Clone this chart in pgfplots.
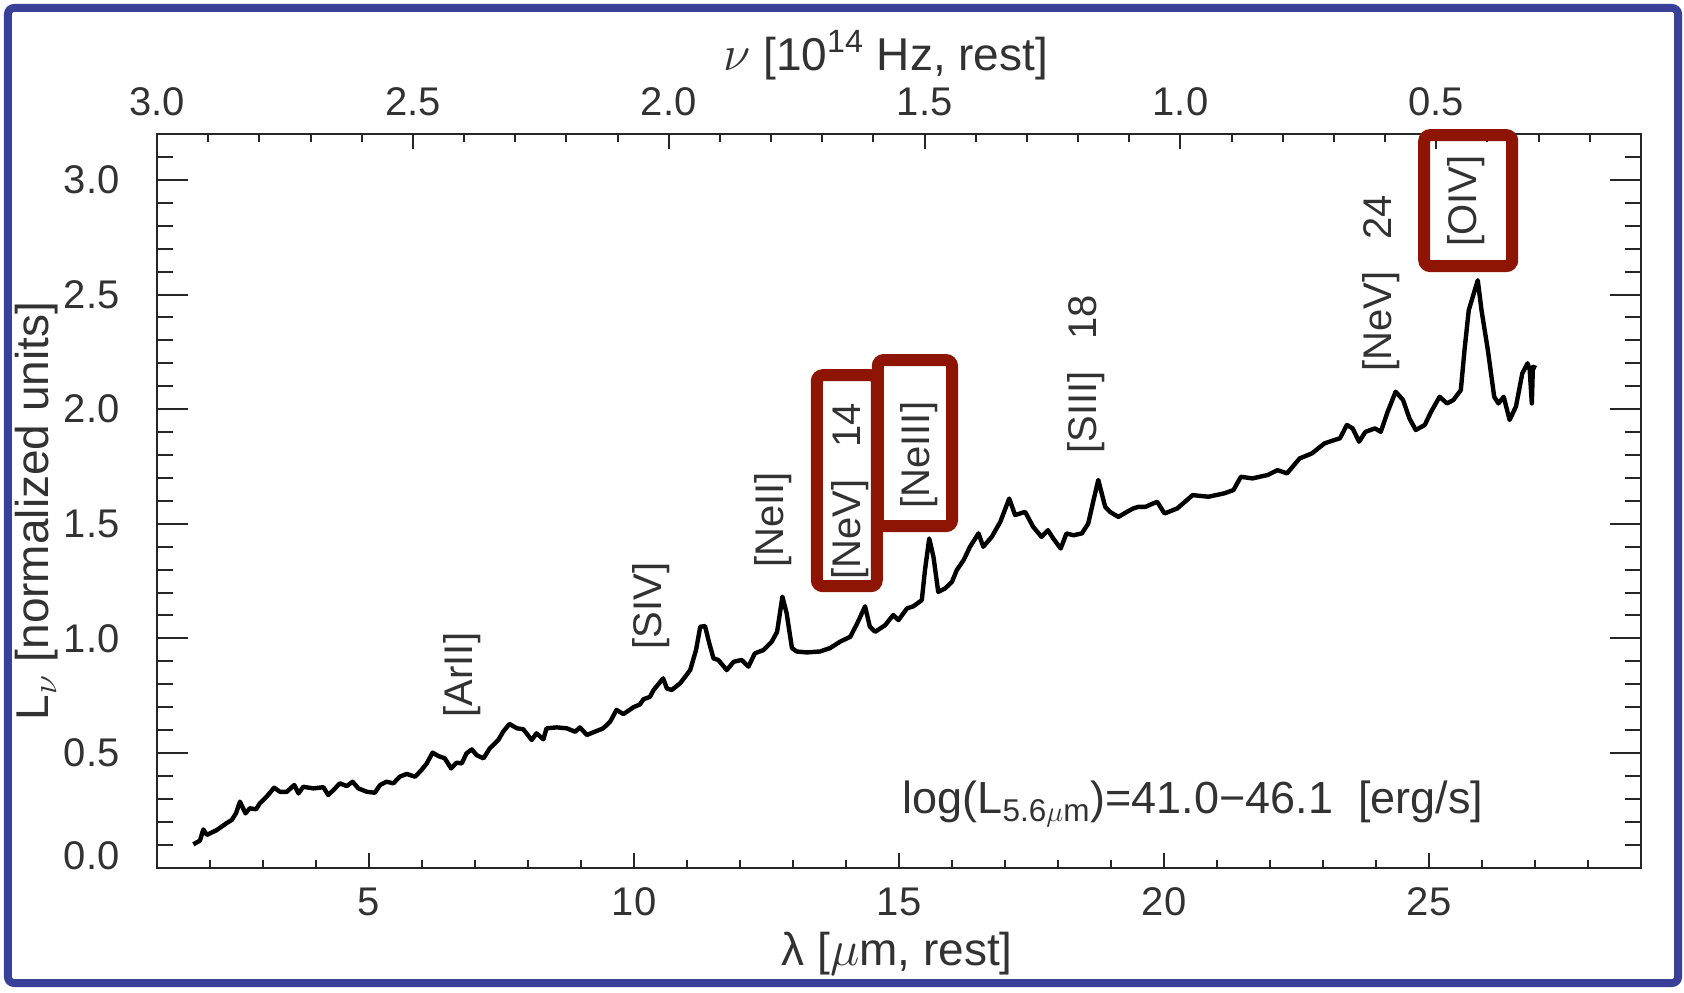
\documentclass[border=0pt]{standalone}
\usepackage{fontspec}
\setmainfont{Liberation Sans}
\usepackage{pgfplots}
\usepackage{pgfplotstable}
\pgfplotsset{compat=1.18}
\definecolor{frameblue}{RGB}{58,64,152}
\definecolor{boxred}{RGB}{142,20,4}
\definecolor{txt}{RGB}{50,50,50}

\pgfplotstableread{
lam val
1.685 0.102
1.81 0.118
1.874 0.167
1.94 0.143
2.126 0.164
2.31 0.194
2.41 0.208
2.49 0.237
2.565 0.288
2.67 0.237
2.75 0.259
2.87 0.255
2.94 0.281
3.07 0.310
3.21 0.349
3.32 0.331
3.45 0.331
3.59 0.361
3.67 0.324
3.76 0.353
3.95 0.346
4.14 0.351
4.23 0.317
4.33 0.339
4.45 0.368
4.58 0.356
4.69 0.375
4.80 0.346
4.96 0.331
5.11 0.327
5.21 0.361
5.33 0.375
5.46 0.368
5.58 0.397
5.71 0.409
5.87 0.397
5.99 0.426
6.09 0.455
6.20 0.502
6.31 0.487
6.43 0.477
6.55 0.433
6.65 0.458
6.75 0.455
6.84 0.499
6.94 0.516
7.03 0.491
7.16 0.477
7.28 0.521
7.44 0.557
7.53 0.593
7.65 0.627
7.79 0.608
7.91 0.604
8.07 0.557
8.16 0.586
8.29 0.560
8.35 0.608
8.54 0.612
8.73 0.608
8.89 0.593
8.98 0.612
9.11 0.579
9.26 0.593
9.42 0.608
9.55 0.637
9.67 0.688
9.80 0.670
9.99 0.700
10.11 0.712
10.18 0.735
10.30 0.745
10.37 0.775
10.55 0.826
10.62 0.782
10.71 0.775
10.87 0.804
11.06 0.862
11.17 0.949
11.25 1.051
11.34 1.054
11.42 0.979
11.50 0.913
11.59 0.906
11.75 0.862
11.88 0.898
12.03 0.906
12.16 0.877
12.28 0.935
12.44 0.949
12.60 0.986
12.70 1.029
12.80 1.182
12.88 1.110
12.98 0.958
13.07 0.943
13.26 0.939
13.51 0.943
13.70 0.958
13.89 0.986
14.08 1.007
14.21 1.065
14.36 1.140
14.45 1.051
14.55 1.029
14.74 1.058
14.89 1.102
14.99 1.080
15.15 1.131
15.27 1.140
15.43 1.167
15.49 1.298
15.57 1.436
15.65 1.356
15.74 1.203
15.87 1.218
16.00 1.247
16.09 1.298
16.22 1.342
16.34 1.400
16.50 1.458
16.59 1.400
16.75 1.443
16.91 1.508
17.08 1.610
17.19 1.538
17.38 1.552
17.53 1.487
17.69 1.443
17.81 1.472
17.91 1.436
18.05 1.392
18.16 1.458
18.29 1.450
18.45 1.458
18.57 1.501
18.67 1.603
18.76 1.691
18.89 1.574
18.98 1.552
19.14 1.530
19.30 1.552
19.42 1.567
19.52 1.574
19.65 1.574
19.87 1.596
20.01 1.545
20.25 1.567
20.54 1.625
20.84 1.618
21.14 1.633
21.31 1.647
21.45 1.705
21.67 1.698
21.96 1.713
22.14 1.734
22.32 1.720
22.56 1.785
22.79 1.807
22.91 1.829
23.03 1.851
23.21 1.865
23.32 1.873
23.45 1.931
23.56 1.916
23.68 1.858
23.80 1.901
23.98 1.916
24.09 1.901
24.22 1.989
24.37 2.076
24.51 2.040
24.63 1.960
24.75 1.909
24.92 1.931
25.04 1.989
25.20 2.054
25.34 2.025
25.46 2.040
25.60 2.083
25.67 2.258
25.75 2.432
25.92 2.562
25.99 2.432
26.11 2.258
26.23 2.054
26.31 2.025
26.41 2.054
26.52 1.953
26.64 2.011
26.76 2.156
26.86 2.200
26.90 2.171
26.94 2.025
26.96 2.185
27.02 2.179
}\spectrum

\begin{document}
\begin{tikzpicture}
\useasboundingbox (-78.5pt,-62.15pt) rectangle (763.5pt,433.85pt);
\draw[frameblue, line width=4pt, rounded corners=3pt] (-74.5pt,-57.65pt) rectangle (760.5pt,429.85pt);
\pgfplotsset{
  common/.style={
    width=742pt, height=366.85pt, scale only axis,
    at={(0pt,0pt)}, anchor=south west,
    xmin=1, xmax=29, ymin=0, ymax=3.2,
    tick style={line width=1pt, color=black!85},
    axis line style={line width=1pt, color=black!85},
    tick label style={font=\fontsize{20}{24}\selectfont, text=txt, /pgf/number format/assume math mode=true},
    label style={font=\fontsize{23}{27}\selectfont, text=txt},
  },
}
% top frequency axis
\begin{axis}[common,
  xmin=0.1, xmax=3.0, x dir=reverse,
  axis x line*=top, axis y line=none,
  xtick={0.5,1.0,1.5,2.0,2.5,3.0},
  minor xtick={0.2,0.3,0.4,0.6,0.7,0.8,0.9,1.1,1.2,1.3,1.4,1.6,1.7,1.8,1.9,2.1,2.2,2.3,2.4,2.6,2.7,2.8,2.9},
  major tick length=7.5pt, minor tick length=4pt,
  xticklabel style={anchor=center, yshift=16pt, /pgf/number format/fixed, /pgf/number format/fixed zerofill, /pgf/number format/precision=1},
]
\addplot[draw=none] coordinates {(1,0.5)};
\end{axis}
% y ticks (left and right)
\begin{axis}[common,
  hide x axis,
  ytick={0.5,1.0,1.5,2.0,2.5,3.0},
  extra y ticks={0}, extra y tick labels={0.0},
  extra y tick style={yticklabel style={yshift=6pt}},
  minor ytick={0.1,0.2,0.3,0.4,0.6,0.7,0.8,0.9,1.1,1.2,1.3,1.4,1.6,1.7,1.8,1.9,2.1,2.2,2.3,2.4,2.6,2.7,2.8,2.9,3.1},
  ytick pos=both, yticklabel pos=left,
  major tick length=15.5pt, minor tick length=8pt,
  yticklabel style={anchor=east, inner sep=0pt, xshift=-18.5pt, /pgf/number format/fixed, /pgf/number format/fixed zerofill, /pgf/number format/precision=1},
]
\addplot[draw=none] coordinates {(5,0.5)};
\end{axis}
% main axis
\begin{axis}[common,
  clip=false,
  xtick={5,10,15,20,25},
  minor xtick={2,3,4,6,7,8,9,11,12,13,14,16,17,18,19,21,22,23,24,26,27,28},
  xtick pos=lower, ytick=\empty,
  major tick length=7.5pt, minor tick length=4pt,
  xticklabel style={anchor=center, yshift=-17pt},
  xlabel={λ [$\mu$m, rest]},
  xlabel style={at={(axis description cs:0.4987,-0.1176)}, anchor=center},
  ylabel={L$_\nu$ [normalized units]},
  ylabel style={at={(axis description cs:-0.0809,0.486)}, anchor=center},
]
\addplot[black, line width=2.2pt, line join=round] table[x=lam, y=val] {\spectrum};
\node[font=\fontsize{23}{27}\selectfont, text=txt, anchor=center] at (axis description cs:0.491,1.1077) {$\nu$ [10\textsuperscript{14} Hz, rest]};
\begin{scope}[every node/.style={rotate=90, font=\fontsize{20}{24}\selectfont, text=txt, inner sep=0pt}]
\node at (axis cs:6.755,0.840) {[ArII]};
\node at (axis cs:10.32,1.141) {[SIV]};
\node at (axis cs:12.62,1.516) {[NeII]};
\node at (axis cs:14.075,1.643) {[NeV]\hspace{0.8em}14};
\node at (axis cs:15.38,1.799) {[NeIII]};
\node at (axis cs:18.53,2.152) {[SIII]\hspace{0.8em}18};
\node at (axis cs:24.09,2.550) {[NeV]\hspace{0.8em}24};
\node at (axis cs:25.70,2.907) {[OIV]};
\end{scope}
\node[anchor=base west, font=\fontsize{22.5}{27}\selectfont, text=txt, inner sep=0pt] at (axis cs:15.06,0.237) {log(L\textsubscript{5.6$\mu$m})=41.0−46.1\ \ [erg/s]};
\draw[boxred, line width=6pt, rounded corners=3pt] (axis cs:13.45,1.228) rectangle (axis cs:14.58,2.148);
\draw[boxred, line width=6pt, rounded corners=3pt] (axis cs:14.60,1.490) rectangle (axis cs:16.00,2.214);
\draw[boxred, line width=6pt, rounded corners=3pt] (axis cs:24.91,2.624) rectangle (axis cs:26.57,3.195);
\end{axis}
\end{tikzpicture}
\end{document}
